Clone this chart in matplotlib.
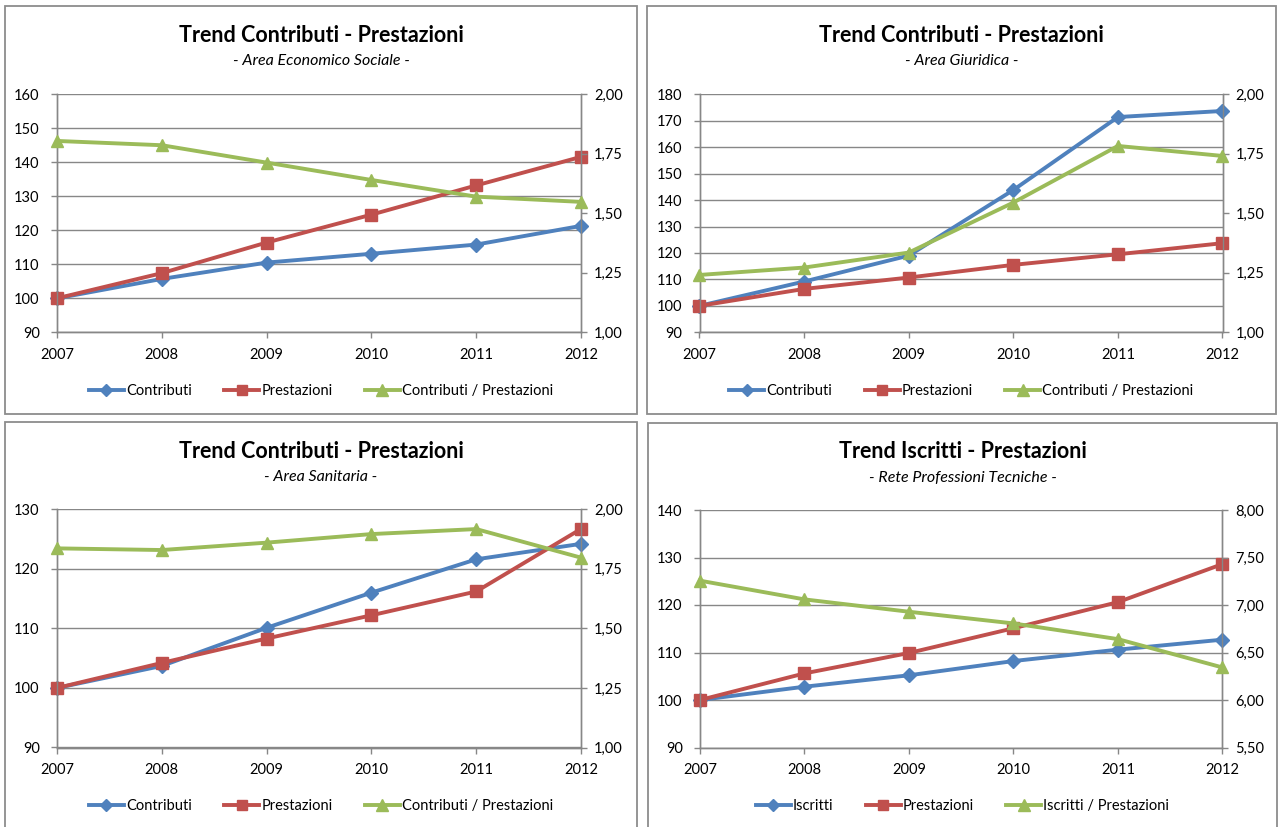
import matplotlib
matplotlib.use("Agg")
import matplotlib.pyplot as plt
from matplotlib.patches import Rectangle
from matplotlib.ticker import FuncFormatter, MultipleLocator

plt.rcParams['font.family'] = ['Lato', 'DejaVu Sans']

# ---- data ---------------------------------------------------------------
years = [2007, 2008, 2009, 2010, 2011, 2012]

eco_contributi = [100, 105.7, 110.5, 113.1, 115.8, 121.3]
eco_prestazioni = [100, 107.4, 116.4, 124.6, 133.2, 141.6]
eco_rapporto = [1.804, 1.786, 1.713, 1.640, 1.570, 1.548]

giu_contributi = [100, 109.2, 119.0, 143.8, 171.4, 173.7]
giu_prestazioni = [100, 106.4, 110.7, 115.5, 119.5, 123.7]
giu_rapporto = [1.241, 1.272, 1.335, 1.545, 1.783, 1.741]

san_contributi = [100, 103.7, 110.1, 116.0, 121.6, 124.2]
san_prestazioni = [100, 104.2, 108.3, 112.2, 116.2, 126.7]
san_rapporto = [1.836, 1.829, 1.860, 1.896, 1.917, 1.797]

tec_iscritti = [100, 102.8, 105.2, 108.2, 110.6, 112.7]
tec_prestazioni = [100, 105.6, 109.9, 115.1, 120.6, 128.6]
tec_rapporto = [7.256, 7.059, 6.929, 6.806, 6.641, 6.343]

titles = ["Trend Contributi - Prestazioni", "Trend Contributi - Prestazioni",
          "Trend Contributi - Prestazioni", "Trend Iscritti - Prestazioni"]
subtitles = ["- Area Economico Sociale -", "- Area Giuridica -",
             "- Area Sanitaria -", "- Rete Professioni Tecniche -"]
labels_contrib = ["Contributi", "Prestazioni", "Contributi / Prestazioni"]
labels_iscritti = ["Iscritti", "Prestazioni", "Iscritti / Prestazioni"]

# ---- styling ------------------------------------------------------------
W, H = 1279, 827
BLUE, RED, GREEN = "#4F81BD", "#C0504D", "#9BBB59"
GRID = "#878787"
BORDER = "#8C8C8C"

fig = plt.figure(figsize=(W / 100, H / 100), dpi=100)
fig.patch.set_facecolor("white")


def fx(x):
    return x / W


def fy(y):
    return 1 - y / H


def comma(v, _pos):
    return f"{v:.2f}".replace(".", ",")


panels = [
    dict(series=(eco_contributi, eco_prestazioni, eco_rapporto), labels=labels_contrib,
         left=(90, 160, 10), right=(1.0, 2.0, 0.25),
         plot=(57, 94.3, 581, 332.3), box=(5, 6, 637, 414),
         ty=35, sy=61, ly=391),
    dict(series=(giu_contributi, giu_prestazioni, giu_rapporto), labels=labels_contrib,
         left=(90, 180, 10), right=(1.0, 2.0, 0.25),
         plot=(699.5, 94.3, 1222.5, 332.3), box=(647, 6, 1276, 414),
         ty=35, sy=61, ly=391),
    dict(series=(san_contributi, san_prestazioni, san_rapporto), labels=labels_contrib,
         left=(90, 130, 10), right=(1.0, 2.0, 0.25),
         plot=(57, 509.3, 581, 747.5), box=(5, 422, 637, 840),
         ty=451, sy=477, ly=806),
    dict(series=(tec_iscritti, tec_prestazioni, tec_rapporto), labels=labels_iscritti,
         left=(90, 140, 10), right=(5.5, 8.0, 0.5),
         plot=(700, 510, 1222.3, 747.5), box=(648, 423, 1277, 840),
         ty=452, sy=478, ly=806),
]

for i, p in enumerate(panels):
    bx0, by0, bx1, by1 = p["box"]
    fig.add_artist(Rectangle((fx(bx0), fy(by1)), fx(bx1 - bx0), (by1 - by0) / H,
                             transform=fig.transFigure, fill=False,
                             edgecolor=BORDER, linewidth=1.3))
    cx = (bx0 + bx1) / 2
    fig.text(fx(cx), fy(p["ty"]), titles[i], ha="center", va="center",
             fontsize=15.5, fontweight="bold", color="black")
    fig.text(fx(cx), fy(p["sy"]), subtitles[i], ha="center", va="center",
             fontsize=11.5, fontstyle="italic", color="black")

    x0, y0, x1, y1 = p["plot"]
    ax = fig.add_axes([fx(x0), fy(y1), fx(x1 - x0), (y1 - y0) / H])
    ax2 = ax.twinx()

    lo, hi, step = p["left"]
    ax.set_ylim(lo, hi)
    ax.yaxis.set_major_locator(MultipleLocator(step))
    ax.set_xlim(years[0], years[-1])
    ax.set_xticks(years)
    ax.set_xticklabels([str(y) for y in years])
    ax.grid(axis="y", color=GRID, linewidth=1.0)
    ax.set_axisbelow(True)

    rlo, rhi, rstep = p["right"]
    ax2.set_ylim(rlo, rhi)
    ax2.yaxis.set_major_locator(MultipleLocator(rstep))
    ax2.yaxis.set_major_formatter(FuncFormatter(comma))

    for a in (ax, ax2):
        a.spines["top"].set_visible(False)
        for side in ("left", "right", "bottom"):
            a.spines[side].set_color(GRID)
            a.spines[side].set_linewidth(1.0)
        a.tick_params(axis="both", colors=GRID, labelcolor="black",
                      labelsize=10.5, length=4.5, width=1.0, direction="out")
    ax.tick_params(axis="y", pad=8)
    ax.tick_params(axis="x", pad=6.5)
    ax2.tick_params(axis="y", pad=5)

    s1, s2, s3 = p["series"]
    h1, = ax.plot(years, s1, color=BLUE, lw=2.8, marker="D", ms=7,
                  clip_on=False, zorder=3)
    h2, = ax.plot(years, s2, color=RED, lw=2.8, marker="s", ms=8,
                  clip_on=False, zorder=4)
    h3, = ax2.plot(years, s3, color=GREEN, lw=2.8, marker="^", ms=9,
                   clip_on=False, zorder=5)

    fig.legend(handles=[h1, h2, h3], labels=p["labels"], loc="center",
               bbox_to_anchor=(fx(cx), fy(p["ly"])), ncol=3, frameon=False,
               fontsize=10.5, handlelength=2.4, handletextpad=0.15,
               columnspacing=2.2, markerscale=0.9)

fig.savefig("out.png", dpi=100, facecolor="white")
